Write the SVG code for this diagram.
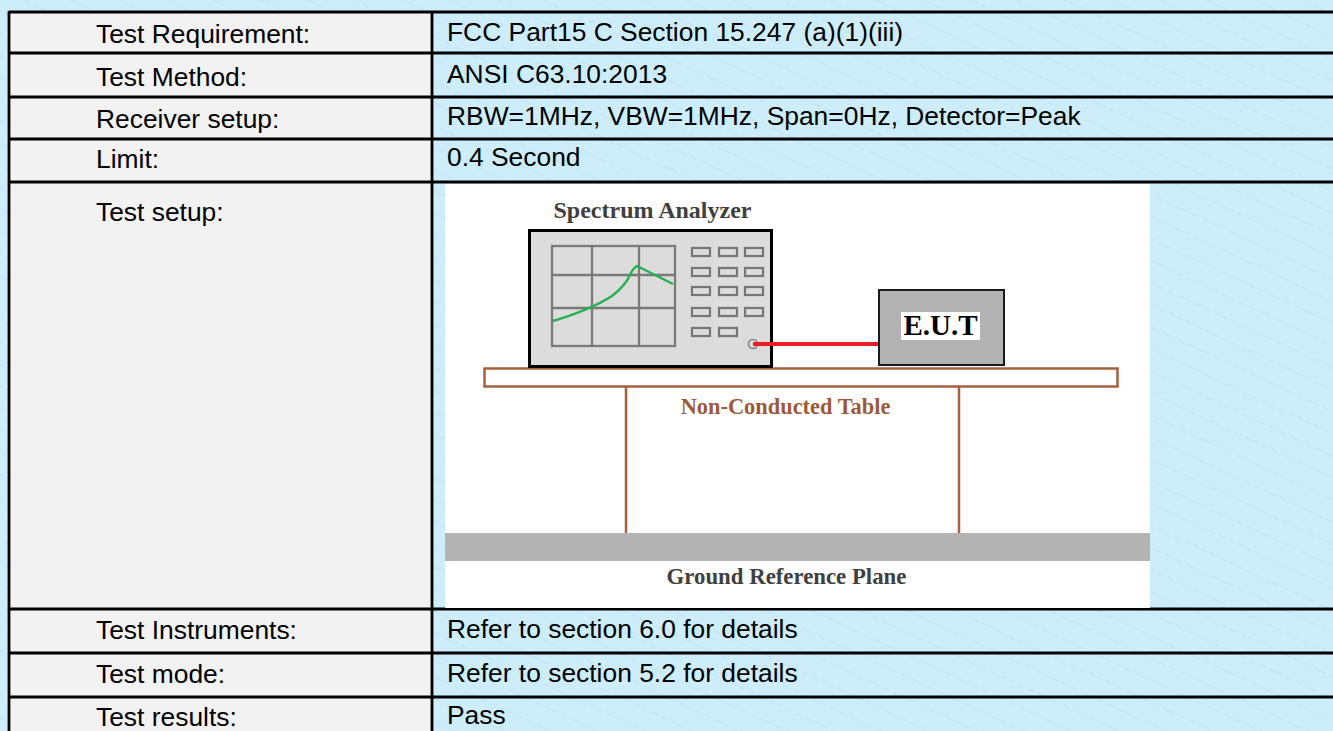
<svg xmlns="http://www.w3.org/2000/svg" width="1333" height="731" viewBox="0 0 1333 731">
<style>
.lbl{font-family:"Liberation Sans",Arial,sans-serif;font-size:26.4px;fill:#000}
.grid{fill:none;stroke:#000;stroke-width:2.8}
.ser{font-family:"Liberation Serif","Times New Roman",serif;font-weight:bold;text-anchor:middle}
.btn{fill:none;stroke:#767676;stroke-width:2.2}
.brown{stroke:#a5613f;stroke-width:2.5}
.scr{stroke:#7a7a7a;stroke-width:2.3}
</style>
<defs>
<pattern id="bgp" width="40" height="40" patternUnits="userSpaceOnUse" patternTransform="rotate(25)">
<rect width="40" height="40" fill="#cdedfb"/>
<line x1="0" y1="10" x2="40" y2="10" stroke="#c4e6f6" stroke-width="1.5" stroke-dasharray="6 5"/>
<line x1="0" y1="30" x2="40" y2="30" stroke="#c4e6f6" stroke-width="1.5" stroke-dasharray="6 5"/>
</pattern>
</defs>
<rect id="background" width="1333" height="731" fill="url(#bgp)"/>
<g id="table-frame">
<rect x="9" y="12" width="423" height="730" fill="#f2f2f2"/>
<line class="grid" x1="9" y1="12" x2="1333" y2="12"/>
<line class="grid" x1="9" y1="53" x2="1333" y2="53"/>
<line class="grid" x1="9" y1="97" x2="1333" y2="97"/>
<line class="grid" x1="9" y1="139" x2="1333" y2="139"/>
<line class="grid" x1="9" y1="182" x2="1333" y2="182"/>
<line class="grid" x1="9" y1="609" x2="1333" y2="609"/>
<line class="grid" x1="9" y1="653" x2="1333" y2="653"/>
<line class="grid" x1="9" y1="697" x2="1333" y2="697"/>
<line class="grid" x1="9" y1="11" x2="9" y2="731"/>
<line class="grid" x1="432" y1="11" x2="432" y2="731"/>
</g>
<g id="row-requirement">
<text class="lbl" x="96" y="43">Test Requirement:</text>
<text class="lbl" x="447" y="41">FCC Part15 C Section 15.247 (a)(1)(iii)</text>
</g>
<g id="row-method">
<text class="lbl" x="96" y="86">Test Method:</text>
<text class="lbl" x="447" y="83">ANSI C63.10:2013</text>
</g>
<g id="row-receiver">
<text class="lbl" x="96" y="128">Receiver setup:</text>
<text class="lbl" x="447" y="125">RBW=1MHz, VBW=1MHz, Span=0Hz, Detector=Peak</text>
</g>
<g id="row-limit">
<text class="lbl" x="96" y="168">Limit:</text>
<text class="lbl" x="447" y="166">0.4 Second</text>
</g>
<g id="row-setup">
<text class="lbl" x="96" y="221">Test setup:</text>
<rect x="445" y="184" width="705" height="424" fill="#fff"/>
</g>
<g id="row-instruments">
<text class="lbl" x="96" y="639">Test Instruments:</text>
<text class="lbl" x="447" y="638">Refer to section 6.0 for details</text>
</g>
<g id="row-mode">
<text class="lbl" x="96" y="683">Test mode:</text>
<text class="lbl" x="447" y="682">Refer to section 5.2 for details</text>
</g>
<g id="row-results">
<text class="lbl" x="96" y="726">Test results:</text>
<text class="lbl" x="447" y="724">Pass</text>
</g>
<g id="ground-plane">
<rect x="445" y="533" width="705" height="28" fill="#b3b3b3"/>
<text class="ser" x="786.5" y="584" font-size="22.8" fill="#404040">Ground Reference Plane</text>
</g>
<g id="test-table">
<rect x="484.5" y="368.5" width="633" height="18" fill="#fff" class="brown"/>
<line class="brown" x1="626" y1="387" x2="626" y2="533"/>
<line class="brown" x1="959" y1="387" x2="959" y2="533"/>
<text class="ser" x="785.5" y="414" font-size="22.4" fill="#9b5b3b">Non-Conducted Table</text>
</g>
<g id="spectrum-analyzer">
<text class="ser" x="652.5" y="218" font-size="24" fill="#3f3f3f">Spectrum Analyzer</text>
<rect x="529.5" y="230.5" width="242" height="136" fill="#dcdcdc" stroke="#000" stroke-width="3"/>
<rect class="scr" x="552" y="246" width="123" height="100" fill="none"/>
<line class="scr" x1="592" y1="246" x2="592" y2="346"/>
<line class="scr" x1="639" y1="246" x2="639" y2="346"/>
<line class="scr" x1="551" y1="275" x2="675" y2="275"/>
<line class="scr" x1="552" y1="308" x2="675" y2="308"/>
<path d="M553,321 Q590,310 612,296 Q625,286 630,275 Q633,268 637,266 L673,284" fill="none" stroke="#22b14c" stroke-width="2.4"/>
<rect class="btn" x="692" y="248" width="18" height="8"/>
<rect class="btn" x="719" y="248" width="18" height="8"/>
<rect class="btn" x="745" y="248" width="18" height="8"/>
<rect class="btn" x="692" y="268" width="18" height="8"/>
<rect class="btn" x="719" y="268" width="18" height="8"/>
<rect class="btn" x="745" y="268" width="18" height="8"/>
<rect class="btn" x="692" y="287" width="18" height="8"/>
<rect class="btn" x="719" y="287" width="18" height="8"/>
<rect class="btn" x="745" y="287" width="18" height="8"/>
<rect class="btn" x="692" y="308" width="18" height="8"/>
<rect class="btn" x="719" y="308" width="18" height="8"/>
<rect class="btn" x="745" y="308" width="18" height="8"/>
<rect class="btn" x="692" y="328" width="18" height="8"/>
<rect class="btn" x="719" y="328" width="18" height="8"/>
<circle cx="753" cy="344" r="4.5" fill="#dcdcdc" stroke="#808080" stroke-width="1.5"/>
</g>
<g id="eut">
<rect x="879" y="290" width="125" height="75" fill="#b3b3b3" stroke="#1a1a1a" stroke-width="2"/>
<rect x="901" y="312" width="79" height="28" fill="#fff"/>
<text class="ser" x="940.5" y="335" font-size="29" fill="#000">E.U.T</text>
</g>
<g id="connectors">
<line x1="753" y1="344" x2="878" y2="344" stroke="#ed1c24" stroke-width="4"/>
</g>
</svg>
